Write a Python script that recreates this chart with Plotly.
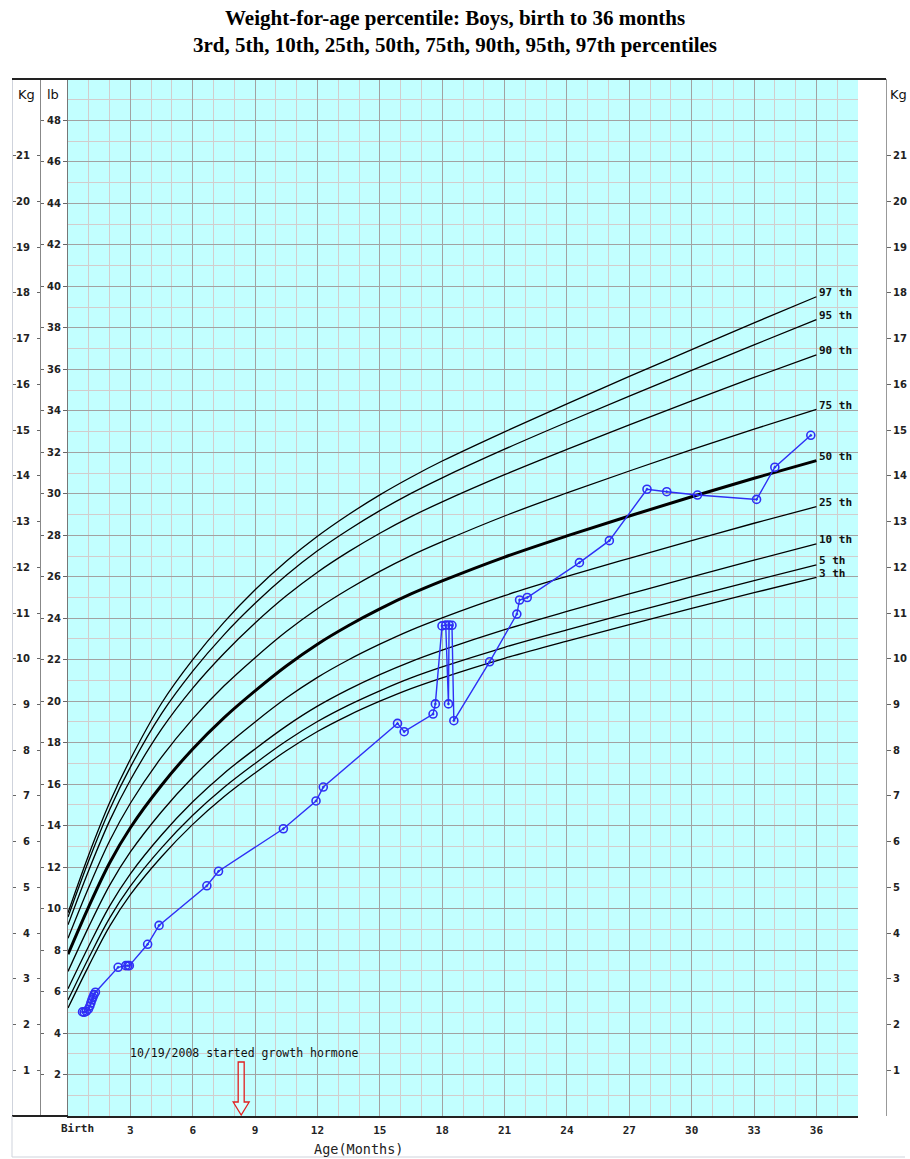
import plotly.graph_objects as go

# ---------------- data ----------------
month_ticks = [3, 6, 9, 12, 15, 18, 21, 24, 27, 30, 33, 36]
lb_ticks = list(range(2, 49, 2))
kg_ticks = list(range(1, 22))

ages = [0, 1, 2, 3, 4.5, 6, 7.5, 9, 10.5, 12, 13.5, 15, 16.5, 18, 21, 24, 27, 30, 33, 36]
p97 = [9.8, 12.6, 15.1, 17.2, 19.9, 22.0, 23.8, 25.37, 26.75, 27.95, 29.0, 29.95, 30.8, 31.58, 32.99, 34.34, 35.66, 36.95, 38.24, 39.5]
p95 = [9.59, 12.32, 14.77, 16.82, 19.4, 21.45, 23.2, 24.72, 26.07, 27.25, 28.27, 29.19, 30.02, 30.77, 32.15, 33.45, 34.71, 35.95, 37.18, 38.4]
p90 = [9.22, 11.85, 14.23, 16.2, 18.65, 20.63, 22.3, 23.77, 25.08, 26.22, 27.21, 28.1, 28.9, 29.61, 30.92, 32.14, 33.32, 34.48, 35.61, 36.7]
p75 = [8.57, 11.03, 13.26, 15.08, 17.3, 19.15, 20.73, 22.1, 23.36, 24.46, 25.41, 26.26, 27.02, 27.69, 28.93, 30.04, 31.1, 32.13, 33.12, 34.07]
p50 = [7.8, 10.1, 12.2, 13.9, 15.95, 17.7, 19.2, 20.5, 21.7, 22.75, 23.65, 24.45, 25.17, 25.8, 26.95, 27.97, 28.93, 29.86, 30.75, 31.6]
p25 = [6.97, 9.13, 11.12, 12.73, 14.67, 16.33, 17.76, 19.0, 20.15, 21.15, 22.0, 22.75, 23.43, 24.02, 25.09, 26.02, 26.89, 27.74, 28.58, 29.38]
p10 = [6.14, 8.2, 10.12, 11.68, 13.55, 15.15, 16.52, 17.7, 18.8, 19.76, 20.57, 21.28, 21.91, 22.46, 23.45, 24.33, 25.17, 26.0, 26.8, 27.58]
p5 = [5.59, 7.63, 9.54, 11.08, 12.93, 14.5, 15.84, 17.0, 18.08, 19.02, 19.81, 20.5, 21.12, 21.65, 22.6, 23.44, 24.25, 25.04, 25.81, 26.57]
p3 = [5.21, 7.24, 9.14, 10.67, 12.5, 14.06, 15.39, 16.54, 17.61, 18.54, 19.32, 20.0, 20.61, 21.13, 22.07, 22.9, 23.69, 24.47, 25.23, 25.97]
pct_names = ["97", "95", "90", "75", "50", "25", "10", "5", "3"]

child_months = [0.70, 0.78, 0.88, 0.98, 1.05, 1.10, 1.15, 1.20, 1.25, 1.32,
                2.41, 2.78, 2.88, 2.95, 3.83, 4.38, 6.68, 7.24, 10.36, 11.93, 12.28,
                15.85, 16.17, 17.56, 17.67, 17.99, 18.17, 18.30, 18.33, 18.47, 18.56,
                20.28, 21.59, 21.72, 22.09, 24.60, 26.04, 27.85, 28.80, 30.28, 33.12,
                34.00, 35.73]
child_lb = [5.02, 5.00, 5.05, 5.15, 5.30, 5.45, 5.60, 5.72, 5.85, 5.97,
            7.17, 7.25, 7.25, 7.25, 8.28, 9.19, 11.10, 11.80, 13.85, 15.19, 15.86,
            18.93, 18.53, 19.38, 19.87, 23.63, 23.67, 19.87, 23.67, 23.66, 19.06,
            21.90, 24.20, 24.88, 25.00, 26.68, 27.74, 30.22, 30.10, 29.94, 29.73,
            31.28, 32.82]

note_text = "10/19/2008 started growth hormone"
note_month = 2.9
note_lb = 3.04
arrow_month = 8.33
LB_PER_KG = 2.20462

# ---------------- figure ----------------
W, H = 910, 1159
ML, MR, MT, MB = 0, 0, 79, 43
plot_l, plot_r = 68, 858
ph = H - MT - MB

def px(x):
    return x / W

def py(y):
    return (H - MB - y) / ph

mono = "DejaVu Sans Mono"
sans = "DejaVu Sans"

fig = go.Figure()

curves = [p97, p95, p90, p75, p50, p25, p10, p5, p3]
for name, vals in zip(pct_names, curves):
    fig.add_trace(go.Scatter(
        x=ages, y=vals, mode="lines",
        line=dict(color="black", width=3 if name == "50" else 1.3, shape="spline", smoothing=1.0),
        hoverinfo="skip", showlegend=False))
    fig.add_annotation(x=36.05, y=vals[-1], text=f"{name} th", showarrow=False,
                       xanchor="left", yanchor="middle", yshift=4,
                       font=dict(family=mono, size=11, color="#111", weight="bold"))

fig.add_trace(go.Scatter(
    x=child_months, y=child_lb, mode="lines+markers",
    line=dict(color="#2f2ff5", width=1.4),
    marker=dict(symbol="circle-open-dot", size=8, color="#2f2ff5", line=dict(width=1.6)),
    hoverinfo="skip", showlegend=False))

# dummy traces so the extra axes render
for ax in ["y2", "y3", "y4", "y5"]:
    fig.add_trace(go.Scatter(x=[None], y=[None], yaxis=ax, showlegend=False, hoverinfo="skip"))

kg_max = 50 / LB_PER_KG
tickfont_y = dict(family=sans, size=10, color="#222", weight="bold")
minor_grid = "#d2cdcd"
major_grid = "#a2a2a2"

fig.update_layout(
    width=W, height=H, autosize=False,
    margin=dict(l=ML, r=MR, t=MT, b=MB, pad=0),
    paper_bgcolor="white", plot_bgcolor="#c2ffff",
    showlegend=False,
    xaxis=dict(domain=[px(plot_l), px(plot_r)], range=[0, 38],
               tickvals=month_ticks, ticktext=[str(m) for m in month_ticks],
               showgrid=True, gridcolor=major_grid, gridwidth=1.2,
               minor=dict(dtick=1, tick0=0, showgrid=True, gridcolor=minor_grid, gridwidth=1),
               ticks="", ticklabelstandoff=3,
               tickfont=dict(family=mono, size=11, color="#222", weight="bold"),
               showline=True, linecolor="#222", linewidth=2, zeroline=False,
               automargin=False, fixedrange=True),
    yaxis=dict(range=[0, 50], tickvals=lb_ticks, ticktext=[str(v) for v in lb_ticks],
               showgrid=True, gridcolor=major_grid, gridwidth=1.2,
               minor=dict(dtick=1, tick0=0, showgrid=True, gridcolor=minor_grid, gridwidth=1),
               ticks="outside", ticklen=4, tickcolor="#666",
               tickfont=tickfont_y, showline=True, linecolor="#777", linewidth=1,
               zeroline=False, automargin=False, fixedrange=True),
    yaxis2=dict(overlaying="y", anchor="free", position=px(40), side="left",
                range=[0, kg_max], tickvals=kg_ticks, ticktext=[str(v) for v in kg_ticks],
                showgrid=False, ticks="outside", ticklen=3, tickcolor="#666",
                ticklabelstandoff=5, tickfont=tickfont_y,
                showline=True, linecolor="#888", linewidth=1,
                zeroline=False, automargin=False, fixedrange=True),
    yaxis3=dict(overlaying="y", anchor="free", position=px(886), side="right",
                range=[0, kg_max], tickvals=kg_ticks, ticktext=[str(v) for v in kg_ticks],
                showgrid=False, ticks="outside", ticklen=4, tickcolor="#666",
                tickfont=tickfont_y, showline=True, linecolor="#999", linewidth=1,
                zeroline=False, automargin=False, fixedrange=True),
    yaxis4=dict(overlaying="y", anchor="free", position=px(12), side="left",
                range=[0, kg_max], tickvals=kg_ticks, showticklabels=False,
                showgrid=False, ticks="inside", ticklen=3, tickcolor="#666",
                showline=True, linecolor="#cfd3dc", linewidth=1,
                zeroline=False, automargin=False, fixedrange=True),
    yaxis5=dict(overlaying="y", anchor="free", position=px(40), side="left",
                range=[0, 50], tickvals=lb_ticks, showticklabels=False,
                showgrid=False, ticks="inside", ticklen=3, tickcolor="#666",
                showline=False, zeroline=False, automargin=False, fixedrange=True),
)

# frame lines
line_dark = dict(color="#222", width=2)
fig.add_shape(type="line", xref="paper", yref="paper", x0=px(12), x1=px(886), y0=py(79), y1=py(79), line=line_dark)
fig.add_shape(type="line", xref="paper", yref="paper", x0=px(12), x1=px(plot_l), y0=py(1116), y1=py(1116), line=line_dark)
fig.add_shape(type="line", xref="paper", yref="paper", x0=px(12), x1=px(12), y0=py(1116), y1=py(1157), line=dict(color="#cfd3dc", width=1))
fig.add_shape(type="line", xref="paper", yref="paper", x0=px(12), x1=px(905), y0=py(1157), y1=py(1157), line=dict(color="#cfd3dc", width=1))

# red hollow arrow
fig.add_shape(type="path", xref="x", yref="y", xsizemode="pixel", ysizemode="pixel",
              xanchor=arrow_month, yanchor=0,
              path="M -3,54 L 3,54 L 3,14 L 8,14 L 0,1 L -8,14 L -3,14 Z",
              line=dict(color="#e02020", width=1.3), fillcolor="rgba(255,255,255,0.35)")

# note
fig.add_annotation(x=note_month, y=note_lb, text=note_text, showarrow=False,
                   xanchor="left", yanchor="middle",
                   font=dict(family=mono, size=11.5, color="#111"))

# Birth label and axis title
fig.add_annotation(x=0.48, xref="x", y=0, yref="paper", yshift=-12, text="Birth", showarrow=False,
                   xanchor="center", yanchor="middle",
                   font=dict(family=mono, size=11, color="#222", weight="bold"))
fig.add_annotation(x=11.74, xref="x", y=0, yref="paper", yshift=-33, text="Age(Months)", showarrow=False,
                   xanchor="left", yanchor="middle",
                   font=dict(family=mono, size=13.5, color="#222"))

# column headers
for txt, xc in [("Kg", 26), ("lb", 53), ("Kg", 898)]:
    fig.add_annotation(x=px(xc), xref="paper", y=py(95), yref="paper", text=txt, showarrow=False,
                       xanchor="center", yanchor="middle",
                       font=dict(family=sans, size=13, color="#111"))

# title
title_font = dict(family="Liberation Serif", size=21, color="black", weight="bold")
fig.add_annotation(x=0.5, xref="paper", y=py(18), yref="paper", showarrow=False,
                   text="Weight-for-age percentile: Boys, birth to 36 months",
                   xanchor="center", yanchor="middle", font=title_font)
fig.add_annotation(x=0.5, xref="paper", y=py(45), yref="paper", showarrow=False,
                   text="3rd, 5th, 10th, 25th, 50th, 75th, 90th, 95th, 97th percentiles",
                   xanchor="center", yanchor="middle", font=title_font)

fig.write_html("out.html", config={"displayModeBar": False},
               post_script="document.body.style.margin='0px';document.body.style.overflow='hidden';")
